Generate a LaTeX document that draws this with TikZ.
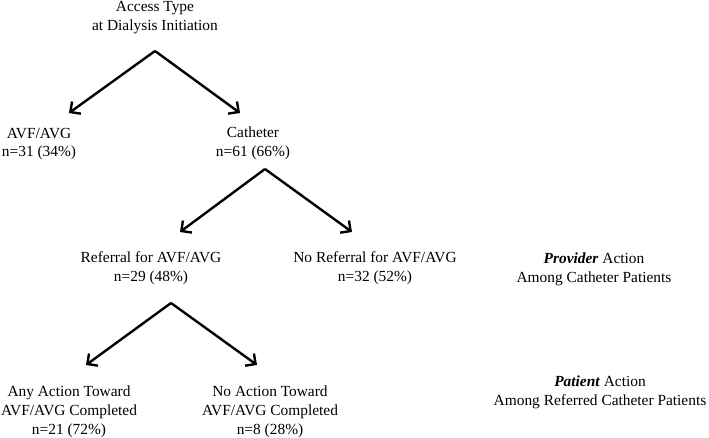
\documentclass[tikz,border=0pt]{standalone}
\usepackage{fontspec}
\setmainfont{Liberation Serif}
\usetikzlibrary{arrows.meta}
\begin{document}
\begin{tikzpicture}[x=1pt,y=-1pt,
  lbl/.style={align=center,inner sep=0pt,font=\fontsize{15.4}{18.8}\selectfont},
  conn/.style={line width=2.4pt,-{Straight Barb[length=7.5pt,width=15pt,line width=2.4pt]}}]
\useasboundingbox (0,0) rectangle (709,438);
\node[lbl] (root) at (155,17.5) {Access Type\\at Dialysis Initiation};
\node[lbl] (avf) at (39,144) {AVF/AVG\\n=31 (34\%)};
\node[lbl] (cath) at (253,143) {Catheter\\n=61 (66\%)};
\node[lbl] (ref) at (151,268) {Referral for AVF/AVG\\n=29 (48\%)};
\node[lbl] (noref) at (375,268.5) {No Referral for AVF/AVG\\n=32 (52\%)};
\node[lbl] (prov) at (594,269) {\textbf{\textit{Provider}} Action\\Among Catheter Patients};
\node[lbl] (any) at (69,411.5) {Any Action Toward\\AVF/AVG Completed\\n=21 (72\%)};
\node[lbl] (noact) at (270,411.5) {No Action Toward\\AVF/AVG Completed\\n=8 (28\%)};
\node[lbl] (pat) at (600,392.5) {\textbf{\textit{Patient}} Action\\Among Referred Catheter Patients};
\coordinate (a1) at (155,51);
\coordinate (t1l) at (69,113);
\coordinate (t1r) at (240,113);
\coordinate (a2) at (265,169);
\coordinate (t2l) at (180,232);
\coordinate (t2r) at (352,232);
\coordinate (a3) at (171,303);
\coordinate (t3l) at (86,365);
\coordinate (t3r) at (257,365);
\draw[conn] (a1) -- (t1l);
\draw[conn] (a1) -- (t1r);
\draw[conn] (a2) -- (t2l);
\draw[conn] (a2) -- (t2r);
\draw[conn] (a3) -- (t3l);
\draw[conn] (a3) -- (t3r);
\end{tikzpicture}
\end{document}
